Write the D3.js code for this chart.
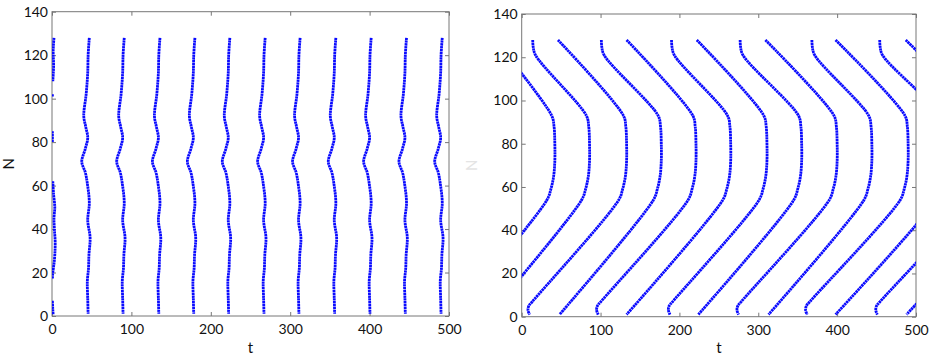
<!DOCTYPE html>
<html>
<head>
<meta charset="utf-8">
<script src="https://cdn.jsdelivr.net/npm/d3@7"></script>
<style>
body { margin: 0; background: #fff; }
text { font-family: Lato, "Open Sans", sans-serif; fill: #111; }
</style>
</head>
<body>
<script>
// ---- data ----
var tTicks = [0, 100, 200, 300, 400, 500];
var nTicks = [0, 20, 40, 60, 80, 100, 120, 140];

// left panel: spike time of each wave, read at N = 112
var leftWaveTimes = [45, 89, 134, 178, 222, 266.5, 310.5, 355.5, 400, 444.5, 489.5];
// shape of one left wave: [N, time offset]
var leftWaveShape = [[128, 2], [120, 0.5], [112, 0], [102, -2], [92, -5], [87, -2.5], [82, 0], [77, -3],
  [71, -7.5], [66, -3], [61, -0.5], [52, 2], [44, 0], [36, 3], [28, 1.5], [22, 1], [16, -0.5], [8, 0], [1, 0.5]];
// the first wave near t = 0 is broken: pieces of [N, t]
var leftFirstWave = [
  [[128, 2.5], [122, 1.5], [115, 2], [108, 1]],
  [[102, 0.5], [101, 0.5]],
  [[85, 0.5], [80, 0.5]],
  [[62, 1], [56, 2], [50, 3.5], [45, 2.5], [40, 3], [34, 4], [28, 3.5], [24, 2.5], [20, 1], [17, 0.5]],
  [[7, 0.5], [3, 1], [0.5, 1.5]]
];

// right panel: chevron waves
var rightTipTimes = [42, 86, 133, 177, 221, 265, 311, 355, 400, 444, 490, 535, 580, 625];
var rightTopTimes = [-34, 14, 46, 101, 133, 190, 222, 277, 309, 368, 398, 454, 487, 540];
var rightBottomTimes = [-85, -41, 10, 48, 97, 133, 188, 224, 275, 313, 362, 398, 451, 488];
var rightTopHook = [0, 1, 0, 1, 0, 1, 0, 1, 0, 1, 0, 1, 0, 1];
var rightBottomHook = [0, 0, 1, 0, 1, 0, 1, 0, 1, 0, 1, 0, 1, 0];
// shape around the tip: [N, time offset from tip]
var rightTipShape = [[93, -4], [88, -1], [80, 0], [72, 0], [65, -1.5], [59, -5], [54, -10]];
var topHookShape = [[128, 0], [125, 0.5], [121, 3.5]];
var bottomHookShape = [[7, 3.5], [5, -1], [3, -2], [1, 0]];

// ---- drawing ----
var svg = d3.select("body").append("svg").attr("width", 936).attr("height", 357);

function panel(id, x0, x1, y0, y1, labelN, nColor) {
  var x = d3.scaleLinear().domain([0, 500]).range([x0, x1]);
  var y = d3.scaleLinear().domain([0, 140]).range([y0, y1]);
  var g = svg.append("g");

  g.append("clipPath").attr("id", id).append("rect")
    .attr("x", x0).attr("y", y1).attr("width", x1 - x0).attr("height", y0 - y1);

  var ax = function (sel) {
    sel.selectAll("path").remove();
    sel.selectAll("line").attr("stroke", "#777");
    sel.selectAll("text").style("font-size", "14px").attr("fill", "#111");
  };
  g.append("g").attr("transform", "translate(0," + y0 + ")")
    .call(d3.axisBottom(x).tickValues(tTicks).tickSizeInner(-4).tickSizeOuter(0).tickPadding(8)).call(ax);
  g.append("g").attr("transform", "translate(0," + y1 + ")")
    .call(d3.axisTop(x).tickValues(tTicks).tickSizeInner(-4).tickSizeOuter(0).tickFormat("")).call(ax);
  g.append("g").attr("transform", "translate(" + x0 + ",0)")
    .call(d3.axisLeft(y).tickValues(nTicks).tickSizeInner(-4).tickSizeOuter(0).tickPadding(4)).call(ax);
  g.append("g").attr("transform", "translate(" + x1 + ",0)")
    .call(d3.axisRight(y).tickValues(nTicks).tickSizeInner(-4).tickSizeOuter(0).tickFormat("")).call(ax);

  g.append("rect").attr("x", x0).attr("y", y1).attr("width", x1 - x0).attr("height", y0 - y1)
    .attr("fill", "none").attr("stroke", "#777").attr("stroke-width", 1);

  g.append("text").attr("x", (x0 + x1) / 2).attr("y", 353).attr("text-anchor", "middle")
    .style("font-size", "15px").text("t");
  g.append("text").attr("transform", "translate(" + labelN + "," + ((y0 + y1) / 2) + ") rotate(-90)")
    .attr("text-anchor", "middle").attr("dy", "0.35em").style("font-size", "15px")
    .attr("fill", nColor).style("fill", nColor).text("N");

  var line = d3.line().x(function (d) { return x(d[1]); }).y(function (d) { return y(d[0]); })
    .curve(d3.curveCatmullRom.alpha(0.5));
  var marks = g.append("g").attr("clip-path", "url(#" + id + ")");
  return { marks: marks, line: line };
}

var L = panel("clipL", 52, 449, 316, 11.7, 9, "#111");
var R = panel("clipR", 521.7, 916, 316.7, 14, 472, "#e4e4e4");

function spikes(p, list) {
  p.marks.selectAll(null).data(list).enter().append("path")
    .attr("d", p.line)
    .attr("fill", "none").attr("stroke", "#0a0aff").attr("stroke-width", 2.8)
    .attr("stroke-dasharray", "2.3,0.5")
    .attr("stroke-linejoin", "round");
}

var leftWaves = leftWaveTimes.map(function (t0) {
  return leftWaveShape.map(function (s) { return [s[0], t0 + s[1]]; });
});
spikes(L, leftFirstWave.concat(leftWaves));

var rightWaves = rightTipTimes.map(function (tip, i) {
  var top = rightTopHook[i] ? topHookShape : [[128, 0]];
  var bot = rightBottomHook[i] ? bottomHookShape : [[1, 0]];
  return top.map(function (s) { return [s[0], rightTopTimes[i] + s[1]]; })
    .concat(rightTipShape.map(function (s) { return [s[0], tip + s[1]]; }))
    .concat(bot.map(function (s) { return [s[0], rightBottomTimes[i] + s[1]]; }));
});
spikes(R, rightWaves);
</script>
</body>
</html>
